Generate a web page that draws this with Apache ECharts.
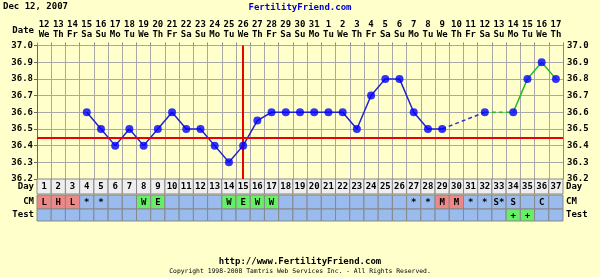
<!DOCTYPE html>
<html><head><meta charset="utf-8">
<script src="https://cdn.jsdelivr.net/npm/echarts@6/dist/echarts.min.js"></script>
<style>html,body{margin:0;padding:0;background:#FFFFCC;}#c{width:600px;height:277px;}</style>
</head><body><div id="c"></div>
<script>
// ---- data ----
const days = ['1','2','3','4','5','6','7','8','9','10','11','12','13','14','15','16','17','18','19','20','21','22','23','24','25','26','27','28','29','30','31','32','33','34','35','36','37'];
const dateNums = ['12','13','14','15','16','17','18','19','20','21','22','23','24','25','26','27','28','29','30','31','1','2','3','4','5','6','7','8','9','10','11','12','13','14','15','16','17'];
const weekdays = ['We','Th','Fr','Sa','Su','Mo','Tu','We','Th','Fr','Sa','Su','Mo','Tu','We','Th','Fr','Sa','Su','Mo','Tu','We','Th','Fr','Sa','Su','Mo','Tu','We','Th','Fr','Sa','Su','Mo','Tu','We','Th'];
const temps = [null,null,null,36.6,36.5,36.4,36.5,36.4,36.5,36.6,36.5,36.5,36.4,36.3,36.4,36.55,36.6,36.6,36.6,36.6,36.6,36.6,36.5,36.7,36.8,36.8,36.6,36.5,36.5,null,null,36.6,null,36.6,36.8,36.9,36.8];
const coverline = 36.45;
const ovulationDay = '15';
const yTicks = [36.2,36.3,36.4,36.5,36.6,36.7,36.8,36.9,37.0];
const cmLabels = ['L','H','L','*','*','','','W','E','','','','','W','E','W','W','','','','','','','','','','*','*','M','M','*','*','S*','S','','C',''];
const cmKinds  = ['r','r','r','','','','','g','g','','','','','g','g','g','g','','','','','','','','','','','','r','r','','','','','','',''];
const testLabels = ['','','','','','','','','','','','','','','','','','','','','','','','','','','','','','','','','','+','+','',''];
const testKinds  = ['','','','','','','','','','','','','','','','','','','','','','','','','','','','','','','','','','g','g','',''];
// segment styles (day ranges)
const solidBlueRange = [4, 29];
const dashBlueRange = [29, 32];
const dashGreenRange = [32, 34];
const solidGreenRange = [34, 37];

const FONT = 'DejaVu Sans Mono';
const kindColor = {r:'#EE8888', g:'#66EE66', '':'#99BBEE'};

function seg(r){ return temps.map((v,i)=> (i+1>=r[0] && i+1<=r[1]) ? v : null); }

function cellSeries(xi, yi, labels, kinds, base){
  const data = days.map((d,i)=>[i,0]);
  return {
    type:'custom', xAxisIndex:xi, yAxisIndex:yi, silent:true,
    data: data,
    renderItem(params, api){
      const i = params.dataIndex;
      const p = api.coord([i, 0]);
      const s = api.size([1,1]);
      const k = kinds ? kinds[i] : '';
      const fill = kinds ? kindColor[k] : base;
      return {
        type:'group',
        children:[
          {type:'rect', shape:{x:p[0]-s[0]/2, y:p[1]-s[1]/2, width:s[0], height:s[1]},
           style:{fill:fill, stroke:'#888888', lineWidth:1}},
          {type:'text', style:{text:labels[i], x:p[0], y:p[1]+0.5, align:'center', verticalAlign:'middle',
            font:'bold 9px "'+FONT+'"', fill:'#000'}}
        ]
      };
    }
  };
}

const chart = echarts.init(document.getElementById('c'), null, {renderer:'canvas'});
const L = 37, R = 37;
const lblStyle = {fontFamily:FONT, fontWeight:'bold', fontSize:9, color:'#000'};

const option = {
  backgroundColor:'#FFFFCC',
  animation:false,
  grid:[
    {left:L, right:R, top:45.5, height:133.5, backgroundColor:'#FFFFCC', show:true, borderWidth:0},
    {left:L, right:R, top:179, height:15},
    {left:L, right:R, top:195, height:14},
    {left:L, right:R, top:209, height:12}
  ],
  xAxis:[
    {type:'category', gridIndex:0, data:days, boundaryGap:true, axisLabel:{show:false}, axisTick:{show:false},
     axisLine:{show:false}, splitLine:{show:true, interval:0, lineStyle:{color:'#A8A8A8', width:1}}},
    {type:'category', gridIndex:0, position:'top', data:dateNums.map((n,i)=>n+'\n'+weekdays[i]), boundaryGap:true,
     axisLine:{show:false}, axisTick:{show:true, length:3, interval:0, lineStyle:{color:'#888'}},
     axisLabel:{interval:0, margin:6, ...lblStyle, lineHeight:10}},
    {type:'category', gridIndex:1, data:days, show:false},
    {type:'category', gridIndex:2, data:days, show:false},
    {type:'category', gridIndex:3, data:days, show:false}
  ],
  yAxis:[
    {type:'value', gridIndex:0, min:36.2, max:37.0, interval:0.1, position:'left',
     axisLine:{show:true, lineStyle:{color:'#666'}}, axisTick:{show:true, length:3, lineStyle:{color:'#666'}},
     splitLine:{show:true, lineStyle:{color:'#A8A8A8', width:1}},
     axisLabel:{...lblStyle, margin:4, formatter:v=>v.toFixed(1)}},
    {type:'value', gridIndex:0, min:36.2, max:37.0, interval:0.1, position:'right',
     axisLine:{show:true, lineStyle:{color:'#888'}}, axisTick:{show:false}, splitLine:{show:false},
     axisLabel:{...lblStyle, margin:4, formatter:v=>v.toFixed(1)}},
    {type:'category', gridIndex:1, data:['Day'], position:'left', axisLine:{show:false}, axisTick:{show:false}, axisLabel:{...lblStyle, margin:3}},
    {type:'category', gridIndex:1, data:['Day'], position:'right', axisLine:{show:false}, axisTick:{show:false}, axisLabel:{...lblStyle, margin:3}},
    {type:'category', gridIndex:2, data:['CM'], position:'left', axisLine:{show:false}, axisTick:{show:false}, axisLabel:{...lblStyle, margin:3}},
    {type:'category', gridIndex:2, data:['CM'], position:'right', axisLine:{show:false}, axisTick:{show:false}, axisLabel:{...lblStyle, margin:3}},
    {type:'category', gridIndex:3, data:['Test'], position:'left', axisLine:{show:false}, axisTick:{show:false}, axisLabel:{...lblStyle, margin:3}},
    {type:'category', gridIndex:3, data:['Test'], position:'right', axisLine:{show:false}, axisTick:{show:false}, axisLabel:{...lblStyle, margin:3}}
  ],
  graphic:[
    {type:'text', left:3, top:2, style:{text:'Dec 12, 2007', font:'bold 9px "'+FONT+'"', fill:'#000'}},
    {type:'text', left:'center', top:3, style:{text:'FertilityFriend.com', font:'bold 9px "'+FONT+'"', fill:'#0000CC'}},
    {type:'text', right:566, top:26, style:{text:'Date', font:'bold 9px "'+FONT+'"', fill:'#000'}},
    {type:'text', left:'center', top:257, style:{text:'http://www.FertilityFriend.com', font:'bold 9px "'+FONT+'"', fill:'#000'}},
    {type:'text', left:'center', top:268, style:{text:'Copyright 1998-2008 Tamtris Web Services Inc. - All Rights Reserved.', font:'6.4px "'+FONT+'"', fill:'#000'}}
  ],
  series:[
    {type:'line', xAxisIndex:0, yAxisIndex:0, data:temps.map(()=>null), showSymbol:false, silent:true,
     markLine:{symbol:'none', silent:true, label:{show:false},
       data:[
         {yAxis:coverline, lineStyle:{color:'#EE0000', width:2, type:'solid'}},
         {xAxis:ovulationDay, lineStyle:{color:'#EE0000', width:2, type:'solid'}}
       ]}},
    {type:'line', xAxisIndex:0, yAxisIndex:0, data:seg(solidBlueRange), showSymbol:false, connectNulls:false,
     lineStyle:{color:'#2222CC', width:1.5}},
    {type:'line', xAxisIndex:0, yAxisIndex:0, data:seg(dashBlueRange), showSymbol:false, connectNulls:true,
     lineStyle:{color:'#3333CC', width:1.5, type:[4,3]}},
    {type:'line', xAxisIndex:0, yAxisIndex:0, data:seg(dashGreenRange), showSymbol:false, connectNulls:true,
     lineStyle:{color:'#22BB22', width:1.5, type:[4,3]}},
    {type:'line', xAxisIndex:0, yAxisIndex:0, data:seg(solidGreenRange), showSymbol:false, connectNulls:false,
     lineStyle:{color:'#22BB22', width:1.5}},
    {type:'scatter', xAxisIndex:0, yAxisIndex:0, data:temps, symbol:'circle', symbolSize:8,
     itemStyle:{color:'#0000FF'}, z:5},
    cellSeries(2, 2, days, null, '#EEEEEE'),
    cellSeries(3, 4, cmLabels, cmKinds),
    cellSeries(4, 6, testLabels, testKinds)
  ]
};
chart.setOption(option);
</script></body></html>
